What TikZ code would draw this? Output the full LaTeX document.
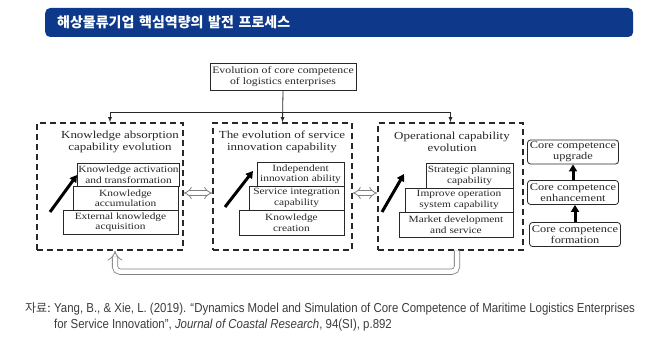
\documentclass[tikz,border=0pt]{standalone}
\usepackage{fontspec}
\setmainfont{Liberation Serif}
\newfontfamily\diagfont{Liberation Serif}[FakeStretch=1.2]
\newfontfamily\krfont{Noto Sans CJK KR}
\newfontfamily\srcfont{Liberation Sans}[FakeStretch=0.88]
\usepackage{tikz}
\usetikzlibrary{arrows,arrows.meta,shapes}
\definecolor{titlenavy}{RGB}{14,57,138}
\definecolor{linegray}{RGB}{40,40,40}
\definecolor{srcgray}{RGB}{60,60,60}

\begin{document}
\begin{tikzpicture}[x=1pt,y=-1pt]
	\tikzstyle{titlebar} = [rounded corners=5pt, fill=titlenavy, text=white, minimum height=29pt, inner xsep=12pt, text width=564pt, align=left, font=\krfont\bfseries\fontsize{14}{14}\selectfont];
	\tikzstyle{tbox} = [draw=linegray, line width=0.8pt, fill=white, text=linegray, align=center, inner sep=1pt, font=\diagfont\fontsize{9.8}{11}\selectfont];
	\tikzstyle{dbox} = [draw=linegray, line width=1.4pt, dash pattern=on 6pt off 4pt, minimum height=127pt, inner sep=0pt];
	\tikzstyle{dtitle} = [text=linegray, align=center, inner sep=0pt, font=\diagfont\fontsize{10.8}{12}\selectfont];
	\tikzstyle{ibox} = [draw=linegray, line width=0.8pt, fill=white, text=linegray, align=center, inner sep=1pt, font=\diagfont\fontsize{9.5}{10.5}\selectfont];
	\tikzstyle{cbox} = [ibox, rounded corners=3pt, minimum width=91pt, minimum height=24pt, font=\diagfont\fontsize{10.3}{11}\selectfont];
	\tikzstyle{conn} = [draw=linegray, line width=0.8pt];
	\tikzstyle{fat} = [line width=3pt, -{Triangle[length=7pt,width=8pt]}];
	\tikzstyle{hollow} = [draw=gray, double=white, double distance=3.5pt, line width=0.8pt, {Implies[length=5pt,width=11pt]}-{Implies[length=5pt,width=11pt]}];
	\tikzstyle{fback} = [draw=gray, double=white, double distance=4.5pt, line width=0.8pt, rounded corners=5pt, -{Implies}];
	
	\useasboundingbox (0,0) rectangle (663,345);
	
	\node[titlebar, anchor=west] (bar) at (45,22.5) {해상물류기업 핵심역량의 발전 프로세스};
	
	\node[tbox, minimum width=146pt, minimum height=27pt] (core) at (283,76.5) {Evolution of core competence\\of logistics enterprises};
	
	\node[dbox, minimum width=146pt] (absorb) at (110,186.5) {};
	\node[dbox, minimum width=139pt] (service) at (282.5,186.5) {};
	\node[dbox, minimum width=145pt] (operate) at (450.5,186.5) {};
	
	\node[dtitle] (absorbT) at (120,142) {Knowledge absorption\\capability evolution};
	\node[dtitle] (serviceT) at (282,142) {The evolution of service\\innovation capability};
	\node[dtitle] (operateT) at (452,142) {Operational capability\\evolution};
	
	\node[ibox, minimum width=99pt, minimum height=23pt] (activate) at (128.5,174.5) {Knowledge activation\\and transformation};
	\node[ibox, minimum width=105pt, minimum height=24pt] (accum) at (125.5,198) {Knowledge\\accumulation};
	\node[ibox, minimum width=115pt, minimum height=24pt] (acquire) at (120.5,222) {External knowledge\\acquisition};
	
	\node[ibox, minimum width=87pt, minimum height=24pt] (indep) at (300.5,174) {Independent\\innovation ability};
	\node[ibox, minimum width=95pt, minimum height=24pt] (integr) at (296.5,198) {Service integration\\capability};
	\node[ibox, minimum width=105pt, minimum height=25pt] (create) at (291.5,222.5) {Knowledge\\creation};
	
	\node[ibox, minimum width=87pt, minimum height=25pt] (plan) at (469.5,175.5) {Strategic planning\\capability};
	\node[ibox, minimum width=108pt, minimum height=24pt] (improve) at (459,200) {Improve operation\\system capability};
	\node[ibox, minimum width=114pt, minimum height=25pt] (market) at (456,224.5) {Market development\\and service};
	
	\node[cbox] (upgrade) at (573,152) {Core competence\\upgrade};
	\node[cbox] (enhance) at (573,192.5) {Core competence\\enhancement};
	\node[cbox] (form) at (575,234.5) {Core competence\\formation};
	
	% top to the three stages
	\coordinate (hub) at (283,112);
	\draw[conn,-latex] (core.south) -- (service.north);
	\draw[conn] (hub -| absorb.north) -- (hub -| operate.north);
	\draw[conn,-latex] (hub -| absorb.north) -- (absorb.north);
	\draw[conn,-latex] (hub -| operate.north) -- (operate.north);
	
	\draw[hollow] ([yshift=-6.5pt]absorb.east) -- ([yshift=-6.5pt]service.west);
	\draw[hollow] ([yshift=-6.5pt]service.east) -- ([yshift=-6.5pt]operate.west);
	
	\coordinate (absorbA) at (50,212);
	\coordinate (absorbB) at (77,175);
	\coordinate (serviceA) at (225,207);
	\coordinate (serviceB) at (253,171);
	\coordinate (operateA) at (382,212);
	\coordinate (operateB) at (404,174);
	\draw[fat] (absorbA) -- (absorbB);
	\draw[fat] (serviceA) -- (serviceB);
	\draw[fat] (operateA) -- (operateB);
	
	\draw[fat] (form.north) -- (form.north |- enhance.south);
	\draw[fat] (enhance.north) -- (upgrade.south);
	
	% feedback
	\draw[fback] ([xshift=6.5pt]operate.south) -- ++(0,21) -| ([xshift=5pt]absorb.south);
	
	\node[anchor=base west, inner sep=0pt, text=srcgray, font=\krfont\fontsize{12}{12}\selectfont] (srclbl) at (25,312) {자료:};
	\node[anchor=north west, inner sep=0pt, text=srcgray, align=left, font=\srcfont\fontsize{13}{16}\selectfont] (src) at (54,302.5) {Yang, B., \& Xie, L. (2019). “Dynamics Model and Simulation of Core Competence of Maritime Logistics Enterprises\\for Service Innovation”, \textit{Journal of Coastal Research}, 94(SI), p.892};
\end{tikzpicture}
\end{document}
